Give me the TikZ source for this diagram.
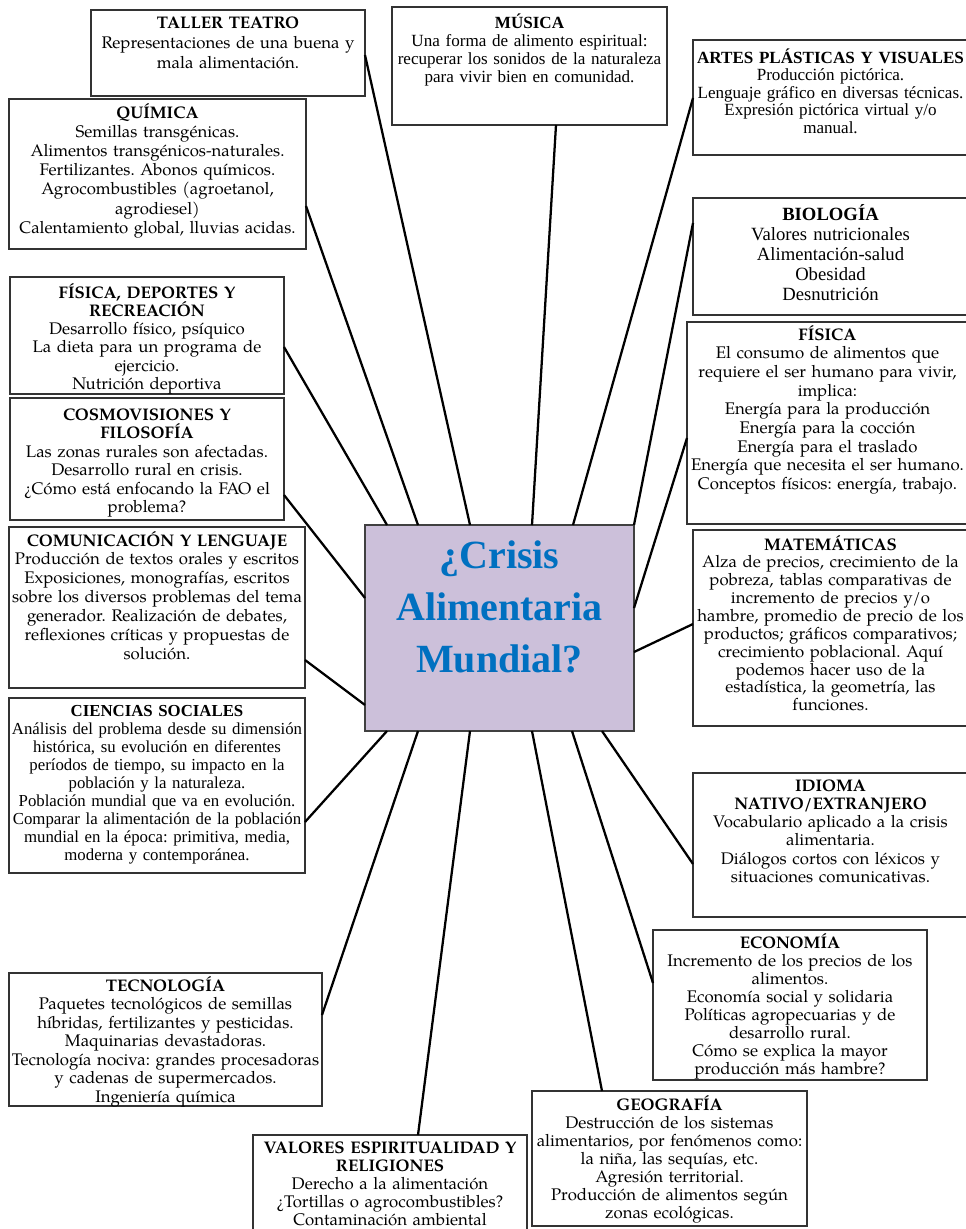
\documentclass[tikz,border=0pt]{standalone}
\usepackage{fontspec}
\setmainfont{Liberation Serif}
\newfontfamily\palfont{texgyrepagella}[Extension=.otf,UprightFont=*-regular,BoldFont=*-bold,ItalicFont=*-italic,BoldItalicFont=*-bolditalic]
\newfontfamily\tmsfont{Liberation Serif}
\usetikzlibrary{fit,calc}
\frenchspacing
\definecolor{ctrfill}{HTML}{CCC0DA}
\definecolor{ctrtext}{HTML}{0070C0}
\tikzset{
 boxst/.style={draw=black!80, line width=1.1pt, inner sep=0pt, outer sep=0pt, fill=white},
 ctrst/.style={draw=black!75, line width=1.1pt, inner sep=0pt, outer sep=0pt, fill=ctrfill},
 conn/.style={draw=black, line width=1.7pt},
 txtst/.style={inner sep=0pt, align=center, anchor=base, text=black},
 pal/.style={font={\palfont\fontsize{12.6}{#1}\selectfont\frenchspacing}},
 tms/.style={font={\tmsfont\fontsize{12.8}{#1}\selectfont\frenchspacing}},
 tmss/.style={font={\tmsfont\fontsize{12.6}{#1}\selectfont\frenchspacing}},
}
\newcommand{\subjbox}[8]{%
 \node[boxst, fit={(#2,#3) (#4,#5)}] (#1) {};
 \node[txtst, #6, text width={(#4-#2+80)*0.75pt}] (#1t) at ({(#2+#4)/2},#7) {#8};
}
\begin{document}
\begin{tikzpicture}[x=0.75pt,y=-0.75pt]
\useasboundingbox (0,0) rectangle (966,1229);
\fill[white] (0,0) rectangle (966,1229);

\subjbox{taller}{91}{10}{365}{96}{pal=15}{28}{\textbf{TALLER TEATRO}\\Representaciones de una buena y\\mala alimentación.}
\subjbox{musica}{392}{7}{667}{125}{tms=13.5}{28}{\textbf{MÚSICA}\\Una forma de alimento espiritual:\\recuperar los sonidos de la naturaleza\\para vivir bien en comunidad.}
\subjbox{artes}{693}{40}{968}{155}{tms=13.2}{63}{\textbf{ARTES PLÁSTICAS Y VISUALES}\\Producción pictórica.\\Lenguaje gráfico en diversas técnicas.\\Expresión pictórica virtual y/o\\manual.}
\subjbox{quimica}{9}{99}{306}{249}{pal=14.4}{118}{\textbf{QUÍMICA}\\Semillas transgénicas.\\Alimentos transgénicos-naturales.\\Fertilizantes. Abonos químicos.\\Agrocombustibles (agroetanol,\\agrodiesel)\\Calentamiento global, lluvias acidas.}
\node[boxst, fit={(693,198) (968,315)}] (biol) {};
\node[txtst, font={\tmsfont\fontsize{14}{15}\selectfont}, text width=250pt] (biolt) at (830.5,220) {\textbf{BIOLOGÍA}\\Valores nutricionales\\Alimentación-salud\\Obesidad\\Desnutrición};
\subjbox{fisdep}{10}{277}{284}{394}{pal=13.7}{298}{\textbf{FÍSICA, DEPORTES Y}\\\textbf{RECREACIÓN}\\Desarrollo físico, psíquico\\La dieta para un programa de\\ejercicio.\\Nutrición deportiva}
\subjbox{fisica}{687}{322}{968}{524}{pal=14}{340}{\textbf{FÍSICA}\\El consumo de alimentos que\\requiere el ser humano para vivir,\\implica:\\Energía para la producción\\Energía para la cocción\\Energía para el traslado\\Energía que necesita el ser humano.\\Conceptos físicos: energía, trabajo.}
\subjbox{cosmov}{10}{398}{284}{520}{pal=13.9}{420}{\textbf{COSMOVISIONES Y}\\\textbf{FILOSOFÍA}\\Las zonas rurales son afectadas.\\Desarrollo rural en crisis.\\¿Cómo está enfocando la FAO el\\problema?}
\subjbox{comunic}{9}{527}{305}{688}{pal=14.2}{546}{\textbf{COMUNICACIÓN Y LENGUAJE}\\Producción de textos orales y escritos\\Exposiciones, monografías, escritos\\sobre los diversos problemas del tema\\generador. Realización de debates,\\reflexiones críticas y propuestas de\\solución.}
\subjbox{matem}{693}{530}{968}{726}{pal=13.4}{550}{\textbf{MATEMÁTICAS}\\Alza de precios, crecimiento de la\\pobreza, tablas comparativas de\\incremento de precios y/o\\hambre, promedio de precio de los\\productos; gráficos comparativos;\\crecimiento poblacional. Aquí\\podemos hacer uso de la\\estadística, la geometría, las\\funciones.}
\subjbox{ciencias}{9}{698}{305}{873}{tmss=13.5}{716}{\textbf{CIENCIAS SOCIALES}\\Análisis del problema desde su dimensión\\histórica, su evolución en diferentes\\períodos de tiempo, su impacto en la\\población y la naturaleza.\\Población mundial que va en evolución.\\Comparar la alimentación de la población\\mundial en la época: primitiva, media,\\moderna y contemporánea.}
\subjbox{idioma}{693}{773}{968}{917}{pal=13.7}{791}{\textbf{IDIOMA}\\\textbf{NATIVO/EXTRANJERO}\\Vocabulario aplicado a la crisis\\alimentaria.\\Diálogos cortos con léxicos y\\situaciones comunicativas.}
\subjbox{econ}{653}{930}{927}{1080}{pal=13.6}{948}{\textbf{ECONOMÍA}\\Incremento de los precios de los\\alimentos.\\Economía social y solidaria\\Políticas agropecuarias y de\\desarrollo rural.\\Cómo se explica la mayor\\producción más hambre?}
\subjbox{tecno}{9}{973}{322}{1106}{pal=13.9}{991}{\textbf{TECNOLOGÍA}\\Paquetes tecnológicos de semillas\\híbridas, fertilizantes y pesticidas.\\Maquinarias devastadoras.\\Tecnología nociva: grandes procesadoras\\y cadenas de supermercados.\\Ingeniería química}
\subjbox{geog}{532}{1091}{807}{1226}{pal=13.6}{1110}{\textbf{GEOGRAFÍA}\\Destrucción de los sistemas\\alimentarios, por fenómenos como:\\la niña, las sequías, etc.\\Agresión territorial.\\Producción de alimentos según\\zonas ecológicas.}
\subjbox{valores}{253}{1135}{527}{1240}{pal=13.6}{1153}{\textbf{VALORES ESPIRITUALIDAD Y}\\\textbf{RELIGIONES}\\Derecho a la alimentación\\¿Tortillas o agrocombustibles?\\Contaminación ambiental}

\node[ctrst, fit={(365,525) (634,731)}] (ctr) {};
\node[txtst, font={\tmsfont\bfseries\fontsize{30}{39}\selectfont}, text=ctrtext, text width=260pt] (ctrt) at (499.5,568) {¿Crisis\\Alimentaria\\Mundial?};

\draw[conn] ($(taller.north east)+(0,45)$) -- ($(ctr.north west)+(105,0)$);
\draw[conn] ($(quimica.north east)+(0,107)$) -- ($(ctr.north west)+(53,0)$);
\draw[conn] ($(fisdep.north east)+(0,70)$) -- ($(ctr.north west)+(22,0)$);
\draw[conn] ($(cosmov.north east)+(0,97)$) -- ($(ctr.north west)+(0,73)$);
\draw[conn] ($(comunic.north east)+(0,133)$) -- ($(ctr.north west)+(0,180)$);
\draw[conn] ($(ciencias.north east)+(0,124)$) -- ($(ctr.south west)+(22,0)$);
\draw[conn] ($(tecno.north east)+(0,42)$) -- ($(ctr.south west)+(53,0)$);
\draw[conn] ($(valores.north west)+(165,0)$) -- ($(ctr.south west)+(105,0)$);
\draw[conn] ($(geog.north west)+(70,0)$) -- ($(ctr.south west)+(167,0)$);
\draw[conn] ($(econ.north west)+(0,53)$) -- ($(ctr.south west)+(207,0)$);
\draw[conn] ($(idioma.north west)+(0,91)$) -- ($(ctr.south west)+(237,0)$);
\draw[conn] ($(matem.north west)+(0,94)$) -- ($(ctr.north east)+(0,127)$);
\draw[conn] ($(fisica.north west)+(0,116)$) -- ($(ctr.north east)+(0,83)$);
\draw[conn] ($(biol.north west)+(0,25)$) -- (ctr.north east);
\draw[conn] ($(artes.north west)+(0,58)$) -- ($(ctr.north west)+(208,0)$);
\draw[conn] ($(musica.south west)+(164,0)$) -- ($(ctr.north west)+(167,0)$);
\end{tikzpicture}
\end{document}
